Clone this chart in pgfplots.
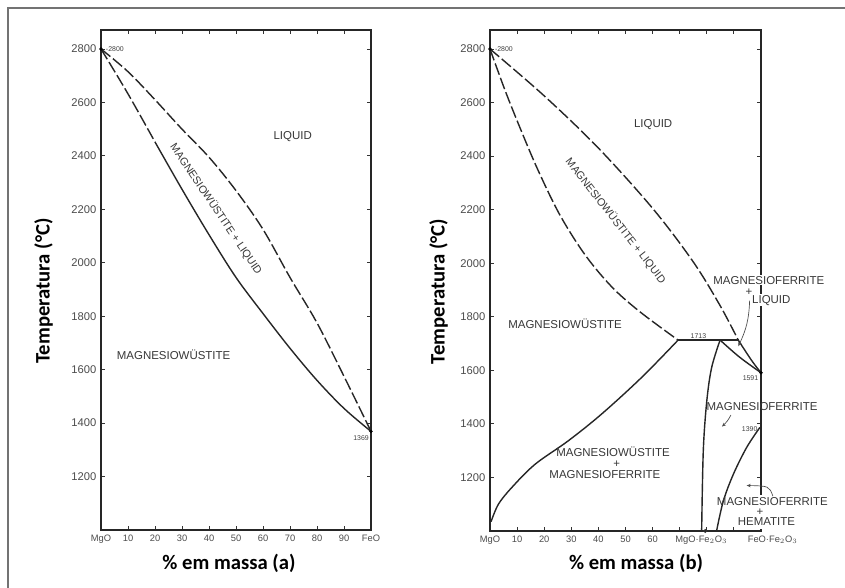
\documentclass[border=0pt]{standalone}
\usepackage{fontspec}
\setmainfont{Carlito}
\newfontfamily\tk{Liberation Sans}
\usepackage{pgfplots}
\pgfplotsset{compat=1.18}
\usetikzlibrary{arrows.meta}

\pgfplotsset{
 pd/.style={
   scale only axis, anchor=south west,
   xmin=0,xmax=100,ymin=1000,ymax=2871,
   ytick={1200,1400,...,2800},
   xtick={0,10,...,100},
   tick align=inside, major tick length=3.2pt,
   axis line style={line width=1.2pt, black!85},
   every tick/.style={line width=0.7pt, black!80},
   xticklabel style={font=\tk\fontsize{7}{8}\selectfont, text=black!70},
   yticklabel style={font=\tk\fontsize{8.4}{9}\selectfont, text=black!70},
   /pgf/number format/assume math mode=true,
   /pgf/number format/1000 sep={},
   clip=false,
   xlabel style={font=\fontsize{15.5}{18}\selectfont\bfseries, anchor=center},
   ylabel style={font=\fontsize{15.5}{18}\selectfont\bfseries, anchor=center},
 },
}
\tikzset{
 bd/.style={line width=1.05pt, black!85, smooth, tension=0.55},
 dsh/.style={bd, dash pattern=on 9pt off 2.5pt},
 rl/.style={font=\tk\fontsize{8.6}{10}\selectfont, text=black!78, inner sep=0.5pt},
 rr/.style={font=\tk\fontsize{8.1}{10}\selectfont, text=black!78, inner sep=0.5pt},
 sm/.style={font=\tk\fontsize{5.2}{6}\selectfont, text=black!75, inner sep=0.5pt},
}

\begin{document}
\begin{tikzpicture}
\path[use as bounding box] (0,0) rectangle (633.75pt,-441pt);
\fill[white] (0,0) rectangle (633.75pt,-441pt);
\draw[black!55, line width=1.3pt] (6pt,-445pt) -- (6pt,-6pt) -- (640pt,-6pt);

% ---------------- panel (a)
\begin{axis}[pd, name=A, at={(75.75pt,-397.5pt)}, width=202.5pt, height=375pt,
  xticklabels={MgO,10,20,30,40,50,60,70,80,90,FeO},
  xlabel={\% em massa (a)}, ylabel={Temperatura (°C)},
  xlabel style={at={(axis description cs:0.474,-0.066)}},
  ylabel style={at={(axis description cs:-0.213,0.478)}}]
\addplot[dsh] coordinates {(0,2800)(10,2715)(20,2610)(30,2500)(40,2395)(50,2270)(60,2125)(70,1945)(80,1775)(90,1575)(100,1369)};
\addplot[dsh] coordinates {(0,2800)(10,2632)(20,2452)};
\addplot[bd] coordinates {(20,2452)(30,2275)(40,2105)(50,1945)(60,1810)(70,1680)(80,1560)(90,1455)(100,1369)};
\addplot[only marks, mark=*, mark size=1.1pt, black] coordinates {(0,2800)(100,1369)};
\node[rl] at (axis cs:71,2471) {LIQUID};
\node[rr, rotate=-56] at (axis cs:42.6,2201) {MAGNESIOWÜSTITE + LIQUID};
\node[rl] at (axis cs:26.9,1655) {MAGNESIOWÜSTITE};
\node[sm, anchor=west] at (axis cs:1.5,2800) {-2800};
\node[sm, anchor=north east] at (axis cs:99.5,1355) {1369};
\end{axis}

% ---------------- panel (b)
\begin{axis}[pd, name=B, at={(367.5pt,-398.25pt)}, width=203.25pt, height=375.75pt,
  xticklabels={MgO,10,20,30,40,50,60,{},{},{},{}},
  xlabel={\% em massa (b)}, ylabel={Temperatura (°C)},
  xlabel style={at={(axis description cs:0.539,-0.064)}},
  ylabel style={at={(axis description cs:-0.19,0.478)}}]
% gap in the right frame
\draw[white, line width=3pt] (axis cs:100,1006) -- (axis cs:100,1135);
% liquidus
\addplot[dsh] coordinates {(0,2800)(20,2625)(40,2430)(60,2205)(75,2005)(85,1840)(91.6,1713)};
\addplot[bd] coordinates {(91.6,1713)(96.6,1636)(100,1591)};
% magnesiowustite solidus
\addplot[dsh] coordinates {(0,2800)(5.5,2647)(11.1,2505)(17.7,2348)(25.8,2180)(35.1,2031)(45,1911)(55.4,1818)(69.4,1713)};
% eutectic line
\addplot[bd] coordinates {(69.4,1713)(91.6,1713)};
% MW / MF solvus
\addplot[bd] coordinates {(69.4,1713)(56,1574)(41.2,1437)(28.9,1337)(16.6,1249)(8,1162)(3.1,1100)(0.4,1035)};
% MF left boundary
\addplot[bd] coordinates {(84.9,1713)(81.8,1611)(80,1486)(78.7,1299)(78.1,1000)};
% MF liquidus
\addplot[bd] coordinates {(84.9,1713)(92,1650)(100,1591)};
% hematite solvus
\addplot[bd] coordinates {(99.6,1387)(94.7,1312)(89.8,1212)(86.1,1112)(83.6,1000)};
% thick line at FeO.Fe2O3
\addplot[line width=1.8pt, black!85] coordinates {(100,1823)(100,1139)};
\addplot[only marks, mark=*, mark size=1.1pt, black] coordinates {(0,2800)(100,1591)};
\addplot[only marks, mark=o, mark size=1.3pt, black!80] coordinates {(79.4,1000)};
\node[rl] at (axis cs:60.2,2516) {LIQUID};
\node[rr, rotate=-52] at (axis cs:46.4,2158) {MAGNESIOWÜSTITE + LIQUID};
\node[rl] at (axis cs:27.7,1773) {MAGNESIOWÜSTITE};
\node[rl] at (axis cs:45.4,1295) {MAGNESIOWÜSTITE};
\node[rl] at (axis cs:46.8,1250) {+};
\node[rl] at (axis cs:42.4,1209) {MAGNESIOFERRITE};
\node[rl, fill=white] at (axis cs:102.9,1937) {MAGNESIOFERRITE};
\node[rl] at (axis cs:95.6,1893) {+};
\node[rl, fill=white, anchor=west] at (axis cs:96.4,1862) {LIQUID};
\draw[black!70, line width=0.5pt, -{Stealth[length=3pt,width=2.5pt]}] (axis cs:95.8,1860) to[bend left=12] (axis cs:91.6,1690);
\node[rl] at (axis cs:100.4,1463) {MAGNESIOFERRITE};
\draw[black!70, line width=0.5pt, -{Stealth[length=3pt,width=2.5pt]}] (axis cs:88.9,1433) to[bend left=10] (axis cs:85.6,1390);
\node[rl] at (axis cs:104.2,1110) {MAGNESIOFERRITE};
\node[rl] at (axis cs:99.6,1072) {+};
\node[rl] at (axis cs:102,1035) {HEMATITE};
\draw[black!70, line width=0.5pt, -{Stealth[length=3pt,width=2.5pt]}] (axis cs:104.4,1130) .. controls (axis cs:103,1168) .. (axis cs:94.7,1170);
\node[sm, anchor=west] at (axis cs:1.5,2800) {-2800};
\node[sm, anchor=south] at (axis cs:76.9,1716) {1713};
\node[sm, anchor=north east] at (axis cs:99.3,1585) {1591};
\node[sm, anchor=east] at (axis cs:99,1380) {1390};
\node[anchor=north, font=\tk\fontsize{7}{8}\selectfont, text=black!70] at (axis cs:78,1000) {MgO·Fe$_2$O$_3$};
\node[anchor=north west, font=\tk\fontsize{7}{8}\selectfont, text=black!70] at (axis cs:93.4,1000) {FeO·Fe$_2$O$_3$};
\end{axis}
\end{tikzpicture}
\end{document}
